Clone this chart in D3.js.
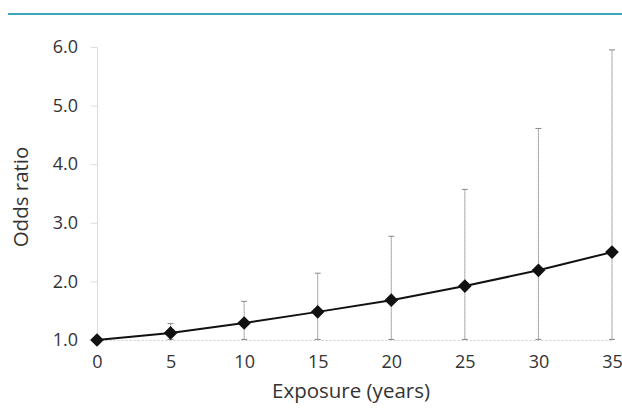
<!DOCTYPE html>
<html>
<head>
<meta charset="utf-8">
<script src="https://cdn.jsdelivr.net/npm/d3@7"></script>
<style>
  body { margin: 0; background: #fff; }
  svg { display: block; font-family: "Open Sans", sans-serif; }
</style>
</head>
<body>
<div id="chart"></div>
<script>
// Odds ratio by years of exposure, with confidence intervals

// ---------- Data ----------
const exposure = [0, 5, 10, 15, 20, 25, 30, 35];
const oddsRatio = [1.0, 1.12, 1.29, 1.48, 1.68, 1.92, 2.19, 2.50];
const ciLower = [1.0, 1.01, 1.01, 1.01, 1.01, 1.01, 1.01, 1.01];
const ciUpper = [1.0, 1.28, 1.66, 2.14, 2.77, 3.57, 4.61, 5.95];
const yTicks = [1, 2, 3, 4, 5, 6];

const width = 622, height = 414;
const margin = { top: 47, right: 10, bottom: 74, left: 97 };

const svg = d3.select('#chart').append('svg')
  .attr('width', width)
  .attr('height', height);

// Teal rule across the top
svg.append('line')
  .attr('x1', 8).attr('x2', width)
  .attr('y1', 14).attr('y2', 14)
  .attr('stroke', '#3aa6b6')
  .attr('stroke-width', 2);

const x = d3.scaleLinear()
  .domain([0, 35])
  .range([margin.left, width - margin.right]);

const y = d3.scaleLinear()
  .domain([1, 6])
  .range([height - margin.bottom, margin.top]);

// y axis
const yAxis = svg.append('g')
  .attr('transform', `translate(${margin.left},0)`)
  .call(d3.axisLeft(y).tickValues(yTicks).tickFormat(d3.format('.1f')).tickSize(6).tickPadding(13));
yAxis.attr('font-family', null).attr('font-size', null);
yAxis.select('.domain').attr('stroke', '#ddd');
yAxis.selectAll('.tick line').attr('stroke', '#ddd');
yAxis.selectAll('.tick text').attr('fill', '#333').style('font-size', '18px');

// x axis
const xAxis = svg.append('g')
  .attr('transform', `translate(0,${height - margin.bottom})`)
  .call(d3.axisBottom(x).tickValues(exposure).tickSize(0).tickPadding(15));
xAxis.attr('font-family', null).attr('font-size', null);
xAxis.select('.domain').attr('stroke', '#ccc').attr('stroke-dasharray', '2,2');
xAxis.selectAll('.tick text').attr('fill', '#333').style('font-size', '18px');

// Axis titles
svg.append('text')
  .attr('transform', `translate(28,197) rotate(-90)`)
  .attr('text-anchor', 'middle')
  .attr('fill', '#333')
  .style('font-size', '20.5px')
  .text('Odds ratio');

svg.append('text')
  .attr('x', 351)
  .attr('y', 398)
  .attr('text-anchor', 'middle')
  .attr('fill', '#333')
  .style('font-size', '20.5px')
  .text('Exposure (years)');

// Error bars
const bars = svg.append('g');
exposure.forEach((e, k) => {
  if (ciUpper[k] === ciLower[k]) return;
  bars.append('line')
    .attr('x1', x(e)).attr('x2', x(e))
    .attr('y1', y(ciLower[k])).attr('y2', y(ciUpper[k]))
    .attr('stroke', '#555')
    .attr('stroke-width', 1)
    .attr('stroke-dasharray', '1,1');
  [ciLower[k], ciUpper[k]].forEach(v => {
    bars.append('line')
      .attr('x1', x(e) - 3).attr('x2', x(e) + 3)
      .attr('y1', y(v)).attr('y2', y(v))
      .attr('stroke', '#888')
      .attr('stroke-width', 1);
  });
});

// Line
const line = d3.line()
  .x((d, k) => x(exposure[k]))
  .y(d => y(d));

svg.append('path')
  .datum(oddsRatio)
  .attr('d', line)
  .attr('fill', 'none')
  .attr('stroke', '#111')
  .attr('stroke-width', 2);

// Diamond markers
svg.append('g').selectAll('path')
  .data(oddsRatio)
  .join('path')
  .attr('transform', (d, k) => `translate(${x(exposure[k])},${y(d)})`)
  .attr('d', d3.symbol(d3.symbolDiamond2, 120))
  .attr('fill', '#111');
</script>
</body>
</html>
